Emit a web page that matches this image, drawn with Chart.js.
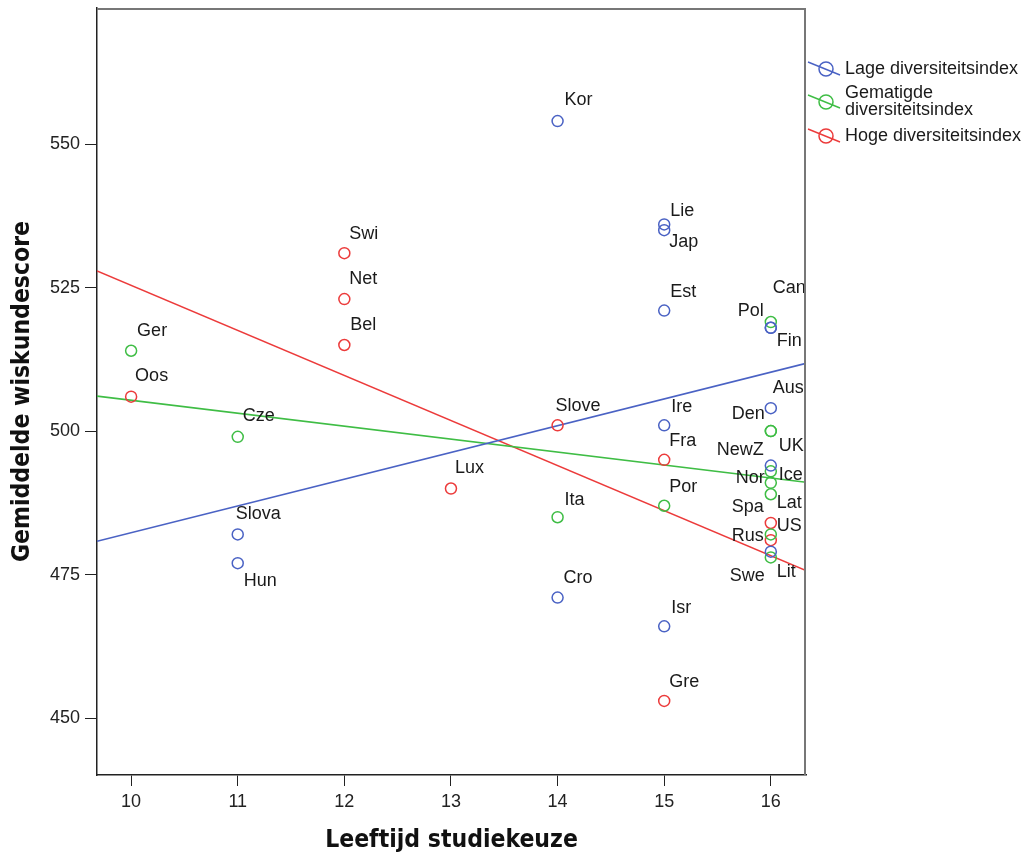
<!DOCTYPE html>
<html>
<head>
<meta charset="utf-8">
<script src="https://cdn.jsdelivr.net/npm/chart.js@4.4.0/dist/chart.umd.min.js"></script>
<style>
  body { margin: 0; background: #fff; }
  #wrap { width: 1034px; height: 855px; }
</style>
</head>
<body>
<div id="wrap"><canvas id="grafiek" width="1034" height="855"></canvas></div>
<script>
// reeksen: leeftijd studiekeuze (x) en gemiddelde wiskundescore (y)
const lageLanden = ['Kor', 'Lie', 'Jap', 'Est', 'Ire', 'Isr', 'Slova', 'Hun', 'Cro', 'Aus', 'UK', 'Pol', 'Fin', 'Lit'];
const lageLeeftijd = [14, 15, 15, 15, 15, 15, 11, 11, 14, 16, 16, 16, 16, 16];
const lageScore = [554, 536, 535, 521, 501, 466, 482, 477, 471, 504, 494, 518, 518, 479];

const gematigdLanden = ['Ger', 'Cze', 'Ita', 'Por', 'Can', 'Den', 'NewZ', 'Ice', 'Lat', 'Nor', 'Rus', 'Swe'];
const gematigdLeeftijd = [10, 11, 14, 15, 16, 16, 16, 16, 16, 16, 16, 16];
const gematigdScore = [514, 499, 485, 487, 519, 500, 500, 493, 491, 489, 482, 478];

const hoogLanden = ['Oos', 'Swi', 'Net', 'Bel', 'Lux', 'Slove', 'Fra', 'Gre', 'Spa', 'US'];
const hoogLeeftijd = [10, 12, 12, 12, 13, 14, 15, 15, 16, 16];
const hoogScore = [506, 531, 523, 515, 490, 501, 495, 453, 484, 481];

// regressielijnen (eindpunten op de randen van de grafiek)
const fitLeeftijd = [9.68, 16.33];
const fitLage = [480.8, 511.8];
const fitGematigd = [506.1, 491.1];
const fitHoog = [527.9, 475.7];

const reeksNamen = ['Lage diversiteitsindex', 'Gematigde diversiteitsindex', 'Hoge diversiteitsindex'];
const xTicks = [10, 11, 12, 13, 14, 15, 16];
const yTicks = [450, 475, 500, 525, 550];

const BLAUW = '#4a62c4';
const GROEN = '#3fbd45';
const ROOD = '#ec3b3b';

// plaats van elk landlabel t.o.v. zijn punt (px): [dx, dy, uitlijning]
const labelPlaats = {
  Kor: [7, -21, 'left'], Lie: [6, -13, 'left'], Jap: [5, 12, 'left'], Est: [6, -19, 'left'],
  Ire: [7, -18, 'left'], Isr: [7, -18, 'left'], Slova: [-2, -20, 'left'], Hun: [6, 18, 'left'],
  Cro: [6, -20, 'left'], Aus: [2, -20, 'left'], UK: [8, -20, 'left'], Pol: [-7, -17, 'right'],
  Fin: [6, 13, 'left'], Lit: [6, 20, 'left'],
  Ger: [6, -20, 'left'], Cze: [5, -21, 'left'], Ita: [7, -17, 'left'], Por: [5, -19, 'left'],
  Can: [2, -34, 'left'], Den: [-6, -17, 'right'], NewZ: [-7, 19, 'right'], Ice: [8, 4, 'left'],
  Lat: [6, 20, 'left'], Nor: [-6, -16, 'right'], Rus: [-7, 2, 'right'], Swe: [-6, 19, 'right'],
  Oos: [4, -21, 'left'], Swi: [5, -19, 'left'], Net: [5, -20, 'left'], Bel: [6, -20, 'left'],
  Lux: [4, -20, 'left'], Slove: [-2, -19, 'left'], Fra: [5, -19, 'left'], Gre: [5, -19, 'left'],
  Spa: [-7, -16, 'right'], US: [6, -14, 'left']
};

function punten(xs, ys) {
  return xs.map((x, i) => ({ x: x, y: ys[i] }));
}

function puntReeks(label, xs, ys, namen, kleur) {
  return {
    label: label,
    data: punten(xs, ys),
    namen: namen,
    borderColor: kleur,
    backgroundColor: 'rgba(0,0,0,0)',
    pointRadius: 5.5,
    pointBorderWidth: 1.5,
    pointHoverRadius: 5.5,
    showLine: false,
    order: 1
  };
}

function lijnReeks(ys, kleur) {
  return {
    label: '',
    data: punten(fitLeeftijd, ys),
    borderColor: kleur,
    borderWidth: 1.6,
    pointRadius: 0,
    showLine: true,
    fill: false,
    order: 2
  };
}

const FONT = "'Liberation Sans', Arial, sans-serif";
const TITEL_FONT = "'Liberation Sans Narrow', 'DejaVu Sans Condensed', Arial, sans-serif";

const labelsPlugin = {
  id: 'landLabels',
  afterDatasetsDraw(chart) {
    const ctx = chart.ctx;
    ctx.save();
    ctx.font = '18px ' + FONT;
    ctx.fillStyle = '#1a1a1a';
    ctx.textBaseline = 'middle';
    chart.data.datasets.forEach((ds, di) => {
      if (!ds.namen) return;
      const meta = chart.getDatasetMeta(di);
      meta.data.forEach((pt, i) => {
        const p = labelPlaats[ds.namen[i]] || [6, -18, 'left'];
        ctx.textAlign = p[2];
        ctx.fillText(ds.namen[i], pt.x + p[0], pt.y + p[1]);
      });
    });
    ctx.restore();
  }
};

const kaderPlugin = {
  id: 'kader',
  afterDraw(chart) {
    const a = chart.chartArea;
    const ctx = chart.ctx;
    ctx.save();
    ctx.strokeStyle = '#777';
    ctx.lineWidth = 2;
    ctx.beginPath();
    ctx.moveTo(a.left, a.top + 1);
    ctx.lineTo(a.right - 1, a.top + 1);
    ctx.lineTo(a.right - 1, a.bottom);
    ctx.stroke();
    ctx.restore();
  }
};

const legendaPlugin = {
  id: 'legenda',
  afterDraw(chart) {
    const ctx = chart.ctx;
    const x0 = chart.chartArea.right;
    const rijen = [69, 102, 136];
    ctx.save();
    ctx.font = '18px ' + FONT;
    ctx.textBaseline = 'middle';
    ctx.textAlign = 'left';
    let r = 0;
    chart.data.datasets.forEach(ds => {
      if (!ds.namen) return;
      const y = rijen[r++];
      const cx = x0 + 20;
      ctx.strokeStyle = ds.borderColor;
      ctx.lineWidth = 1.4;
      ctx.beginPath();
      ctx.moveTo(x0 + 2, y - 7);
      ctx.lineTo(x0 + 34, y + 6);
      ctx.stroke();
      ctx.lineWidth = 1.5;
      ctx.beginPath();
      ctx.arc(cx, y, 7, 0, Math.PI * 2);
      ctx.stroke();
      ctx.fillStyle = '#1a1a1a';
      const woorden = ds.label.split(' ');
      let regels = [ds.label];
      if (ctx.measureText(ds.label).width > 1034 - x0 - 40) {
        regels = [woorden[0], woorden.slice(1).join(' ')];
      }
      const h = 17;
      regels.forEach((t, k) => {
        ctx.fillText(t, x0 + 39, y + (k - (regels.length - 1) / 2) * h);
      });
    });
    ctx.restore();
  }
};

new Chart(document.getElementById('grafiek'), {
  type: 'scatter',
  data: {
    datasets: [
      puntReeks(reeksNamen[0], lageLeeftijd, lageScore, lageLanden, BLAUW),
      puntReeks(reeksNamen[1], gematigdLeeftijd, gematigdScore, gematigdLanden, GROEN),
      puntReeks(reeksNamen[2], hoogLeeftijd, hoogScore, hoogLanden, ROOD),
      lijnReeks(fitLage, BLAUW),
      lijnReeks(fitGematigd, GROEN),
      lijnReeks(fitHoog, ROOD)
    ]
  },
  options: {
    responsive: false,
    animation: false,
    layout: { padding: { top: 8, right: 228, left: 0, bottom: 0 } },
    plugins: {
      legend: { display: false },
      tooltip: { enabled: false }
    },
    scales: {
      x: {
        type: 'linear',
        min: 9.68,
        max: 16.33,
        afterBuildTicks: s => { s.ticks = xTicks.map(v => ({ value: v })); },
        afterFit: s => { s.height = 80; s.paddingLeft = 0; s.paddingRight = 0; },
        grid: { display: true, drawOnChartArea: false, drawTicks: true, tickLength: 11, color: '#222' },
        border: { display: true, color: '#222', width: 1.5 },
        ticks: { color: '#222', font: { family: FONT, size: 18 }, padding: 5, maxRotation: 0 },
        title: {
          display: true,
          text: 'Leeftijd studiekeuze',
          color: '#111',
          font: { family: TITEL_FONT, size: 24.5, weight: 'bold' },
          padding: { top: 0, bottom: 0 }
        }
      },
      y: {
        type: 'linear',
        min: 440.1,
        max: 573.7,
        afterBuildTicks: s => { s.ticks = yTicks.map(v => ({ value: v })); },
        afterFit: s => { s.width = 97; s.paddingTop = 0; s.paddingBottom = 0; },
        grid: { display: true, drawOnChartArea: false, drawTicks: true, tickLength: 12, color: '#222' },
        border: { display: true, color: '#222', width: 1.5 },
        ticks: { color: '#222', font: { family: FONT, size: 18 }, padding: 5 },
        title: {
          display: true,
          text: 'Gemiddelde wiskundescore',
          color: '#111',
          font: { family: TITEL_FONT, size: 24.5, weight: 'bold' },
          padding: { top: 8, bottom: 0 }
        }
      }
    }
  },
  plugins: [labelsPlugin, kaderPlugin, legendaPlugin]
});
</script>
</body>
</html>
